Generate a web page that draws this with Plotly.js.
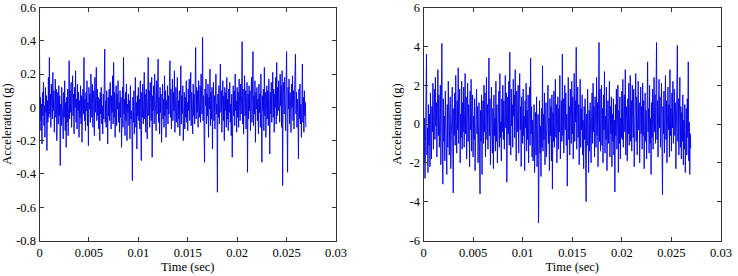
<!DOCTYPE html>
<html>
<head>
<meta charset="utf-8">
<script src="https://cdn.plot.ly/plotly-3.0.1.min.js"></script>
<style>
  html, body { margin: 0; padding: 0; background: #fff; }
  #chart { width: 738px; height: 276px; }
</style>
</head>
<body>
<div id="chart"></div>
<script>
// Sample spacing of both acceleration records (seconds); one row below = 1 ms
const SAMPLE_INTERVAL = 0.00005;

// Record 1: acceleration (g)
const accelA = [
  0.38, -0.08, 0.06, -0.14, 0.02, -0.22, 0.09, -0.05, 0.15, -0.11, 0.01, -0.18, 0.12, -0.03, 0.07, -0.26, 0.04, -0.09, 0.18, -0.06,
  0.30, -0.04, 0.08, -0.12, 0.14, 0.01, -0.07, 0.21, -0.02, 0.10, -0.15, 0.05, 0.17, -0.06, 0.11, -0.20, 0.03, 0.09, -0.10, 0.13,
  -0.05, 0.07, -0.35, 0.02, -0.11, 0.12, -0.08, -0.01, -0.19, 0.09, -0.06, 0.16, -0.14, 0.03, -0.24, 0.06, -0.09, 0.11, -0.17, 0.01,
  0.28, -0.07, 0.10, -0.03, 0.15, -0.12, 0.06, 0.19, -0.05, 0.08, -0.16, 0.12, 0.00, 0.22, -0.09, 0.05, -0.13, 0.14, -0.02, 0.09,
  -0.18, 0.04, -0.06, 0.13, -0.10, 0.07, -0.21, 0.02, 0.11, -0.04, 0.30, -0.08, 0.05, -0.14, 0.09, -0.02, 0.16, -0.11, 0.03, -0.23,
  0.12, -0.01, 0.08, -0.09, 0.20, 0.02, -0.06, 0.14, -0.12, 0.10, 0.04, -0.17, 0.18, -0.03, 0.07, 0.24, -0.08, 0.11, -0.05, 0.06,
  -0.13, 0.05, -0.20, 0.09, -0.04, 0.12, -0.10, 0.01, -0.16, 0.08, -0.07, 0.17, 0.35, -0.09, 0.04, -0.12, 0.10, -0.02, -0.22, 0.06,
  -0.05, 0.11, -0.08, 0.15, 0.00, -0.13, 0.07, -0.03, 0.19, -0.10, 0.27, -0.06, 0.09, -0.18, 0.04, 0.13, -0.11, 0.08, -0.01, 0.16,
  -0.09, 0.03, -0.15, 0.10, -0.06, 0.06, -0.24, 0.01, 0.12, -0.12, 0.30, -0.04, 0.05, -0.17, 0.09, -0.08, 0.14, -0.20, 0.02, -0.03,
  0.08, -0.11, 0.04, -0.19, 0.13, -0.07, -0.02, -0.14, -0.44, 0.06, -0.09, 0.10, -0.16, -0.01, 0.18, -0.12, 0.03, -0.25, 0.07, -0.05,
  0.12, -0.08, 0.05, -0.13, 0.16, -0.03, -0.32, 0.09, -0.06, 0.14, -0.10, 0.02, 0.21, -0.07, 0.08, -0.15, 0.11, -0.01, -0.19, 0.06,
  0.30, -0.05, 0.10, -0.12, 0.15, 0.03, -0.08, 0.18, -0.30, 0.07, -0.02, 0.13, -0.10, 0.20, 0.00, 0.09, -0.14, 0.16, -0.04, 0.11,
  0.29, -0.09, 0.06, -0.16, 0.12, -0.03, 0.08, -0.21, 0.02, 0.14, -0.07, 0.05, -0.12, 0.19, -0.05, 0.10, -0.18, 0.04, -0.01, 0.13,
  -0.10, 0.07, -0.04, 0.15, 0.28, -0.06, 0.11, -0.13, 0.05, 0.17, -0.08, 0.09, -0.02, 0.22, -0.15, 0.06, 0.12, -0.09, 0.03, 0.18,
  -0.12, 0.04, -0.07, 0.10, -0.17, 0.01, 0.25, -0.10, 0.07, -0.04, 0.13, -0.20, 0.02, 0.09, -0.13, 0.06, -0.06, 0.16, -0.09, 0.03,
  -0.14, 0.11, -0.02, 0.17, -0.08, 0.06, 0.21, -0.11, 0.09, 0.01, -0.16, 0.14, -0.05, 0.08, -0.10, 0.19, 0.36, -0.07, 0.12, -0.03,
  0.10, -0.12, 0.16, 0.02, -0.06, 0.13, -0.09, 0.20, 0.05, -0.04, 0.42, -0.08, 0.07, -0.14, -0.33, 0.11, 0.01, 0.17, -0.10, 0.08,
  -0.05, 0.14, -0.18, 0.06, -0.01, 0.23, -0.11, 0.09, -0.07, 0.12, -0.25, 0.04, 0.15, -0.08, 0.07, -0.13, 0.10, 0.20, -0.04, 0.02,
  -0.51, 0.08, -0.06, 0.13, -0.10, 0.05, 0.26, -0.03, 0.10, -0.15, 0.03, 0.16, -0.08, 0.07, -0.20, 0.12, -0.02, 0.09, -0.12, 0.18,
  -0.07, 0.05, -0.14, 0.11, -0.03, 0.15, -0.09, 0.02, -0.17, 0.08, -0.30, 0.06, 0.13, -0.05, 0.10, -0.11, 0.20, -0.02, 0.04, -0.15,
  0.12, -0.06, 0.09, -0.12, 0.17, 0.00, -0.08, 0.14, -0.04, 0.07, 0.395, -0.10, 0.11, -0.16, 0.06, 0.19, -0.05, 0.10, -0.13, 0.03,
  0.15, -0.39, 0.08, -0.07, 0.13, -0.02, 0.10, -0.14, 0.04, 0.18, -0.09, 0.06, 0.335, -0.11, 0.07, -0.04, 0.16, -0.21, 0.09, -0.01,
  0.12, -0.08, 0.05, -0.16, 0.14, -0.03, 0.08, -0.12, 0.20, -0.06, -0.33, 0.07, -0.02, 0.11, -0.14, 0.24, -0.05, 0.09, -0.18, 0.04,
  0.13, -0.07, 0.10, -0.11, 0.17, 0.02, -0.28, 0.09, -0.04, 0.15, -0.09, 0.06, 0.21, -0.06, 0.11, -0.15, 0.08, 0.00, 0.18, -0.10,
  0.27, -0.05, 0.12, -0.02, 0.16, 0.05, -0.09, 0.20, 0.01, 0.13, -0.12, 0.22, -0.47, 0.08, 0.15, -0.04, 0.18, 0.03, -0.14, 0.11,
  0.335, -0.06, -0.39, 0.12, -0.01, 0.17, -0.10, 0.09, 0.04, -0.15, 0.14, 0.00, 0.19, -0.08, 0.10, -0.13, 0.07, 0.16, 0.32, -0.04,
  0.09, -0.12, 0.05, -0.03, -0.31, 0.11, -0.07, 0.14, -0.10, 0.02, -0.18, 0.08, 0.26, -0.09, 0.06, -0.15, 0.10, -0.05, 0.03, -0.12
];

// Record 2: acceleration (g)
const accelB = [
  1.2, -2.0, 0.3, -2.8, -0.9, 0.8, 3.6, -1.6, -0.2, -2.5, 1.0, -1.1, 0.5, -2.2, 1.6, -0.7, -1.8, 0.9, -0.4, 2.1,
  -1.3, 0.6, 1.8, -0.8, 2.4, -0.1, 1.1, -1.7, 0.8, 2.8, -0.6, 1.5, -1.2, 0.2, 2.0, -2.1, 0.9, 4.15, -0.5, -3.1,
  1.3, -0.9, 0.4, -1.9, 1.7, -0.3, 0.7, -2.6, 1.0, -1.2, 2.2, -0.5, -1.6, 0.6, 1.4, -2.3, 0.1, -0.8, 1.9, -1.4,
  -3.55, 0.8, -0.6, 1.6, -1.1, 2.5, 0.2, -1.5, 1.2, -0.3, 2.9, -1.0, 0.9, 1.8, -2.0, 0.5, -0.7, 2.2, -1.3, 1.1,
  -0.4, 1.9, -1.2, 0.7, 2.6, -0.5, 1.4, -1.8, 0.3, 2.1, -0.9, 1.0, 0.1, -2.2, 1.7, -0.3, 2.3, -1.4, 0.8, 1.5,
  -1.7, 0.4, -0.8, 1.3, -2.4, 0.2, -1.1, 1.8, -0.5, 0.9, -2.0, -0.2, 1.1, -1.4, -3.6, 0.7, -0.9, 1.5, -2.6, 0.3,
  1.2, -1.0, 2.0, -0.4, 1.6, -1.7, 0.6, 2.4, -0.8, 1.0, -1.3, 0.2, 3.4, -0.6, 1.3, -2.1, 0.9, 1.9, -0.3, -1.5,
  0.8, -2.3, 1.5, -0.6, 0.3, -1.4, 2.2, -0.9, 1.0, -2.0, 0.5, -0.2, 1.7, -1.2, 2.6, -0.7, 0.1, -1.9, 1.3, -0.4,
  2.0, -0.8, 1.2, -1.3, 0.6, 2.5, -0.2, 1.6, -3.0, 0.9, 1.4, -0.5, 2.2, -1.1, 3.7, 0.3, -1.6, 1.8, -0.1, 1.0,
  -1.2, 2.3, 0.4, 1.5, -0.7, 2.8, 0.1, -1.9, 1.7, 0.8, -0.4, 2.0, -1.5, 1.1, 2.6, -0.3, 0.9, -2.2, 1.4, 0.5,
  -1.0, 1.8, -0.6, 0.4, -2.4, 1.2, -0.2, 2.1, -1.4, 0.7, -0.8, 1.5, -2.0, 0.3, 1.9, -1.1, 3.4, -0.5, 0.9, -1.7,
  0.2, -1.9, -0.4, 1.0, -2.5, -0.9, 0.6, -1.6, 1.4, -2.2, -0.3, 0.5, -5.1, -0.8, 1.2, -1.5, -0.1, -2.7, 0.8, -1.2,
  3.0, -1.4, 0.5, -0.8, 1.6, -2.1, 0.2, 1.1, -1.7, 0.7, -0.5, 2.0, -1.0, 0.3, -2.4, 1.3, -0.6, 0.9, -1.9, 1.5,
  -3.35, 0.6, -0.9, 1.7, -1.2, 0.4, 2.3, -0.7, 1.0, -2.0, 0.2, 1.4, -1.3, 0.8, -0.4, 2.5, -1.8, 0.5, 1.2, -0.9,
  3.6, -0.6, 1.3, -1.5, 0.8, 2.0, -0.3, 1.6, -1.1, 0.5, -3.2, 1.1, 2.4, -0.8, 0.9, -1.6, 1.8, 0.2, -1.0, 2.2,
  -0.5, 1.4, -1.8, 0.7, 2.6, -0.9, 1.2, 0.1, 3.95, -1.3, 0.6, 1.9, -0.7, 1.0, -2.1, 0.4, 2.3, -1.2, 0.8, -0.3,
  1.5, -1.6, 0.2, -2.3, 0.9, -0.8, 1.3, -1.9, -4.0, 0.5, -1.1, 1.8, -0.6, -2.5, 0.7, -1.4, 1.1, -0.2, -2.0, 0.4,
  1.6, -1.0, 2.1, -0.4, 0.9, -1.7, 1.4, 0.3, -1.2, 2.4, -0.6, 1.1, -2.2, 0.7, 4.2, -0.9, 1.8, -1.4, 0.5, 2.0,
  -1.1, 0.8, -2.0, 1.5, -0.3, 2.7, -1.5, 0.4, -0.8, 1.9, -2.4, 0.6, 1.2, -1.0, 0.1, 2.2, -1.7, 0.9, -0.5, 1.4,
  -2.2, 0.5, -0.9, 1.3, -1.6, 0.2, -3.5, 1.0, -0.6, 1.8, -1.3, -0.1, 2.0, -2.5, 0.7, -1.0, 1.4, -1.8, 0.3, -0.7,
  1.7, -0.8, 2.3, -1.2, 0.6, 1.5, -0.4, 2.8, -1.6, 0.9, 0.2, -1.9, 1.3, -0.5, 2.1, -1.1, 0.7, 2.5, -0.9, 1.2,
  -1.4, 2.0, 0.3, -0.7, 1.8, -2.2, 1.0, 0.5, 2.6, -0.9, 1.4, -1.6, 0.8, 2.2, -0.3, 1.1, -2.0, 0.6, 1.9, -0.5,
  0.9, -1.3, 2.1, -0.6, 1.2, -2.3, 0.4, 1.6, -0.9, 0.7, -1.8, 1.3, 3.2, -0.4, 0.8, -1.5, 2.0, -1.0, 0.3, -2.6,
  1.1, -0.7, 1.8, -1.3, 0.6, 2.4, -0.4, 1.5, -1.0, 2.0, 4.2, -0.8, 1.2, -1.7, 0.9, 2.3, -0.2, 1.4, -1.2, 0.7,
  2.1, -1.1, -3.65, 0.9, -0.5, 1.7, -1.5, 0.4, 2.5, -0.8, 1.2, -2.0, 0.6, 1.9, -0.3, 1.0, -1.7, 2.8, -0.6, 0.8,
  -1.4, 1.6, -0.2, 2.2, -1.0, 0.7, 1.8, -0.6, 1.1, -2.3, 0.5, 2.0, 4.05, -0.9, 1.3, -1.6, 0.4, 2.4, -1.2, 0.9,
  -1.8, 0.6, -0.9, 1.5, -2.1, 0.2, -1.3, 1.0, -2.5, -0.4, 0.8, -1.6, 1.3, -0.7, 3.2, -1.9, 0.1, -2.6, -0.5, -1.25
];

// Tick positions and labels
const timeTicks = [0, 0.005, 0.01, 0.015, 0.02, 0.025, 0.03];
const timeTickText = ['0', '0.005', '0.01', '0.015', '0.02', '0.025', '0.03'];
const accelATicks = [-0.8, -0.6, -0.4, -0.2, 0, 0.2, 0.4, 0.6];
const accelATickText = ['-0.8', '-0.6', '-0.4', '-0.2', '0', '0.2', '0.4', '0.6'];
const accelBTicks = [-6, -4, -2, 0, 2, 4, 6];
const accelBTickText = ['-6', '-4', '-2', '0', '2', '4', '6'];

const timeA = accelA.map((_, i) => i * SAMPLE_INTERVAL);
const timeB = accelB.map((_, i) => i * SAMPLE_INTERVAL);

const FONT = 'Liberation Serif, Times New Roman, serif';
const LINE_BLUE = '#0000e8';

const traces = [
  { x: timeA, y: accelA, type: 'scatter', mode: 'lines',
    line: { color: LINE_BLUE, width: 0.9 }, xaxis: 'x', yaxis: 'y', hoverinfo: 'skip' },
  { x: timeB, y: accelB, type: 'scatter', mode: 'lines',
    line: { color: LINE_BLUE, width: 0.9 }, xaxis: 'x2', yaxis: 'y2', hoverinfo: 'skip' }
];

function xAxis(domain, anchor) {
  return {
    domain: domain, anchor: anchor, range: [0, 0.03],
    tickmode: 'array', tickvals: timeTicks, ticktext: timeTickText,
    ticks: 'inside', ticklen: 4, tickwidth: 1, tickcolor: '#333',
    showline: true, linecolor: '#333', linewidth: 1, mirror: 'allticks',
    showgrid: false, zeroline: false,
    tickfont: { family: FONT, size: 12.5, color: '#000' },
    title: { text: 'Time (sec)', font: { family: FONT, size: 12.5, color: '#000' }, standoff: 2 },
    automargin: false
  };
}

function yAxis(domain, anchor, range, vals, text) {
  return {
    domain: domain, anchor: anchor, range: range,
    tickmode: 'array', tickvals: vals, ticktext: text,
    ticks: 'inside', ticklen: 4, tickwidth: 1, tickcolor: '#333',
    showline: true, linecolor: '#333', linewidth: 1, mirror: 'allticks',
    showgrid: false, zeroline: false,
    tickfont: { family: FONT, size: 12.5, color: '#000' },
    title: { text: 'Acceleration (g)', font: { family: FONT, size: 12.5, color: '#000' }, standoff: 5 },
    automargin: false
  };
}

const layout = {
  width: 738, height: 276,
  margin: { l: 0, r: 0, t: 0, b: 0 },
  paper_bgcolor: '#fff', plot_bgcolor: '#fff',
  showlegend: false,
  xaxis: xAxis([39.5 / 738, 336 / 738], 'y'),
  yaxis: yAxis([1 - 240.5 / 276, 1 - 7.5 / 276], 'x', [-0.8, 0.6], accelATicks, accelATickText),
  xaxis2: xAxis([423.5 / 738, 721 / 738], 'y2'),
  yaxis2: yAxis([1 - 240.5 / 276, 1 - 7.5 / 276], 'x2', [-6, 6], accelBTicks, accelBTickText)
};

Plotly.newPlot('chart', traces, layout, { staticPlot: true, displayModeBar: false });
</script>
</body>
</html>
